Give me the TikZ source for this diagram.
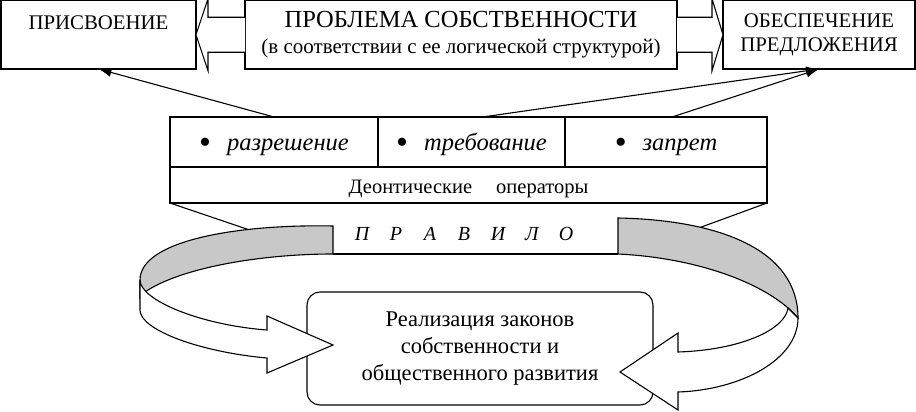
\documentclass[tikz,border=0pt]{standalone}
\usepackage{fontspec}
\setmainfont{Liberation Serif}
\usetikzlibrary{arrows.meta,positioning,calc}
\definecolor{OwnInk}{HTML}{000000}
\definecolor{OwnBand}{HTML}{C8C8C8}
\newcommand{\ownbul}[1]{\raisebox{-3.5pt}{\fontsize{34}{34}\selectfont\textbullet}\hspace{16pt}\textit{#1}}
\newcommand{\ownlet}[1]{\makebox[34pt]{#1}}
\tikzset{
  >={Latex[length=13pt,width=9pt]},
  ownbox/.style={draw=OwnInk, line width=1.1pt, inner sep=0pt, outer sep=0pt,
    align=center, minimum height=68.5pt},
  owncell/.style={ownbox, minimum height=50pt, text height=20pt, text depth=4pt,
    font=\fontsize{24.5}{28}\selectfont},
  ownrow/.style={ownbox, minimum height=36pt, text height=18pt, text depth=2pt,
    font=\fontsize{20.5}{24}\selectfont},
  ownarrow/.style={->, line width=1.1pt, draw=OwnInk},
  ownblock/.style={line width=1.1pt, draw=OwnInk, fill=white, line join=miter},
  ownback/.style={line width=1.1pt, draw=OwnInk, fill=OwnBand},
  ownfront/.style={line width=1.1pt, draw=OwnInk, fill=white, line join=miter},
  ownline/.style={line width=1.1pt, draw=OwnInk}
}
\begin{document}
\begin{tikzpicture}[x=1pt, y=-1pt]
  \useasboundingbox (0,0) rectangle (916,412);

  % top row
  \node[ownbox, minimum width=432pt, font=\fontsize{24.5}{26}\selectfont] (prob)
    at (461,34.75)
    {ПРОБЛЕМА СОБСТВЕННОСТИ\\
     \fontsize{21}{26}\selectfont (в соответствии с ее логической структурой)};
  \node[ownbox, minimum width=195pt, left=49pt of prob,
    font=\fontsize{20.8}{24}\selectfont] (assign) {ПРИСВОЕНИЕ\\\phantom{П}};
  \node[ownbox, minimum width=192pt, right=46pt of prob,
    font=\fontsize{20.8}{24}\selectfont] (supply) {ОБЕСПЕЧЕНИЕ\\ПРЕДЛОЖЕНИЯ};

  \draw[ownblock] ($(prob.west)+(0,-17.5)$) -- ($(assign.east)+(12,-17.5)$)
    -- ($(assign.east)+(12,-36)$) -- (assign.east) -- ($(assign.east)+(12,36)$)
    -- ($(assign.east)+(12,17.5)$) -- ($(prob.west)+(0,17.5)$);
  \draw[ownblock] ($(prob.east)+(0,-17.5)$) -- ($(supply.west)+(-11,-17.5)$)
    -- ($(supply.west)+(-11,-36)$) -- (supply.west) -- ($(supply.west)+(-11,36)$)
    -- ($(supply.west)+(-11,17.5)$) -- ($(prob.east)+(0,17.5)$);

  % deontic table
  \node[owncell, minimum width=208pt] (perm) at (274,142) {\ownbul{разрешение}};
  \node[owncell, minimum width=187pt, right=0pt of perm] (req) {\ownbul{требование}};
  \node[owncell, minimum width=202pt, right=0pt of req] (ban) {\ownbul{запрет}};
  \node[ownrow, minimum width=597pt, anchor=north west] (deon) at (perm.south west)
    {Деонтические\hspace{24pt}операторы};

  \draw[ownarrow] (perm.north) -- (assign.south);
  \draw[ownarrow] ([xshift=11pt]req.north) -- (supply.south);
  \draw[ownarrow] ([xshift=6pt]ban.north) -- (supply.south);

  % rule
  \coordinate (lend) at (333,254);
  \coordinate (rend) at (618,254);
  \coordinate (lfoot) at (254,231.5);
  \coordinate (rfoot) at (696,229);
  \node[font=\fontsize{20}{24}\selectfont\itshape] (rule) at (464,233.5)
    {\ownlet{П}\ownlet{Р}\ownlet{А}\ownlet{В}\ownlet{И}\ownlet{Л}\ownlet{О}};
  \draw[ownline] (lend) -- (rend);
  \draw[ownline] (deon.south west) -- (lfoot);
  \draw[ownline] (deon.south east) -- (rfoot);

  \node[ownbox, rounded corners=13pt, minimum width=346pt, minimum height=113pt,
    font=\fontsize{22.5}{27}\selectfont] (result) at (480,348.5)
    {Реализация законов\\собственности и\\общественного развития};

  % ribbon
  \draw[ownback] (333,226) .. controls (240,224) and (140,240) .. (140,280)
    -- (140,298) -- (145,292) .. controls (180,268) and (260,254) .. (lend) -- cycle;
  \draw[ownfront] (140,280) .. controls (140,300) and (200,325) .. (267,330)
    -- (267,316) -- (333,345) -- (267,373) -- (267,358)
    .. controls (200,352) and (140,330) .. (140,310) -- cycle;
  \draw[ownback] (618,218) .. controls (720,220) and (798,250) .. (798,318)
    .. controls (770,285) and (700,258) .. (rend) -- cycle;
  \draw[ownfront] (788,308) .. controls (785,330) and (740,350) .. (678,352)
    -- (678,333) -- (620,372) -- (678,410) -- (678,392)
    .. controls (740,390) and (798,360) .. (798,318) -- cycle;
\end{tikzpicture}
\end{document}
